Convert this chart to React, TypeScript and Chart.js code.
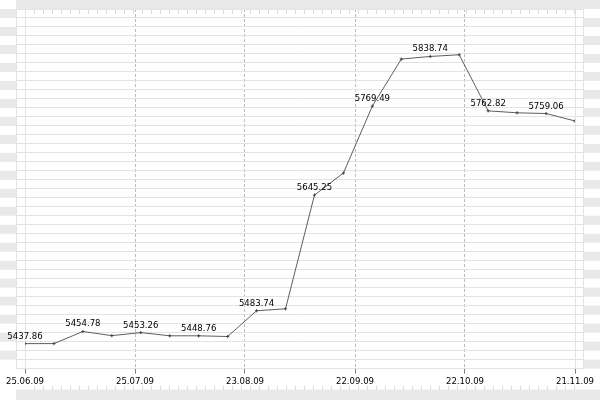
import React, { useEffect, useRef } from "react";
import { Chart, registerables } from "chart.js";

Chart.register(...registerables);

// ---- data ----
const pointIndex = [0, 1, 2, 3, 4, 5, 6, 7, 8, 9, 10, 11, 12, 13, 14, 15, 16, 17, 18, 19];
const values = [
  5437.86, 5437.9, 5454.78, 5449.0, 5453.26, 5448.8, 5448.76, 5447.8, 5483.74, 5486.5,
  5645.25, 5676.0, 5769.49, 5835.1, 5838.74, 5841.1, 5762.82, 5760.1, 5759.06, 5748.7,
];
const labeledIndices = [0, 2, 4, 6, 8, 10, 12, 14, 16, 18];
const dateTickPositions = [0, 3.8, 7.6, 11.4, 15.2, 19];
const dateTickLabels = ["25.06.09", "25.07.09", "23.08.09", "22.09.09", "22.10.09", "21.11.09"];
const yMin = 5403;
const yMax = 5905;
const yGridCount = 41;

// ---- styles ----
const FONT = '"DejaVu Sans Condensed", "DejaVu Sans", sans-serif';
const FONT_SIZE = 9.5;
const BAND = "#e9e9e9";
const GRID = "#e3e3e3";
const DASH = "#bababa";
const LINE = "#5e5e5e";

const decorPlugin = {
  id: "decor",
  beforeDraw(chart: any) {
    const { ctx, chartArea: a, width: W, height: H } = chart;
    const step = (a.bottom - a.top) / (yGridCount - 1);
    ctx.save();
    ctx.fillStyle = "#ffffff";
    ctx.fillRect(0, 0, W, H);
    const leftEdge = a.left - 9;
    const rightEdge = a.right + 8;
    ctx.fillStyle = BAND;
    // top and bottom bands
    ctx.fillRect(leftEdge, 0, W - leftEdge, a.top);
    ctx.fillRect(leftEdge, a.bottom + 21, W - leftEdge, H - (a.bottom + 21));
    // left stripes
    for (let y = a.top; y < a.bottom - 0.5; y += 2 * step) {
      ctx.fillRect(0, y, leftEdge, step);
    }
    // right stripes
    for (let y = a.top + step; y < a.bottom - 0.5; y += 2 * step) {
      ctx.fillRect(rightEdge, y, W - rightEdge, step);
    }
    // frame lines
    ctx.strokeStyle = GRID;
    ctx.lineWidth = 1;
    ctx.beginPath();
    ctx.moveTo(a.left - 8.5, a.top);
    ctx.lineTo(a.left - 8.5, a.bottom + 1);
    ctx.moveTo(a.right + 8.5, a.top);
    ctx.lineTo(a.right + 8.5, a.bottom + 1);
    ctx.stroke();
    // ruler ticks (top and bottom)
    ctx.strokeStyle = "#dcdcdc";
    ctx.beginPath();
    for (let x = a.left + 9; x < a.right; x += 9) {
      const px = Math.round(x) + 0.5;
      ctx.moveTo(px, a.top);
      ctx.lineTo(px, a.top + 5);
      ctx.moveTo(px, a.bottom + 17);
      ctx.lineTo(px, a.bottom + 21);
    }
    ctx.stroke();
    ctx.restore();
  },
};

const labelPlugin = {
  id: "valueLabels",
  afterDatasetsDraw(chart: any) {
    const { ctx } = chart;
    const meta = chart.getDatasetMeta(0);
    ctx.save();
    ctx.font = `${FONT_SIZE}px ${FONT}`;
    ctx.fillStyle = "#000000";
    ctx.textAlign = "center";
    ctx.textBaseline = "middle";
    labeledIndices.forEach((i) => {
      const el = meta.data[i];
      if (!el) return;
      ctx.fillText(values[i].toFixed(2), el.x, el.y - 7.5);
    });
    ctx.restore();
  },
};

export default function App() {
  const ref = useRef<HTMLCanvasElement | null>(null);

  useEffect(() => {
    if (!ref.current) return;
    const yCommon = {
      type: "linear" as const,
      min: yMin,
      max: yMax,
      ticks: { display: false, count: yGridCount, autoSkip: false },
      border: { display: true, color: GRID },
    };
    const chart = new Chart(ref.current, {
      type: "line",
      data: {
        datasets: [
          {
            data: pointIndex.map((x, i) => ({ x, y: values[i] })),
            borderColor: LINE,
            borderWidth: 1,
            pointStyle: "cross",
            pointRadius: 1.6,
            pointBorderWidth: 1,
            pointBorderColor: "#444",
            pointBackgroundColor: "#444",
            tension: 0,
            yAxisID: "y",
          },
        ],
      },
      options: {
        responsive: false,
        animation: false,
        layout: { padding: { left: 17, right: 17, top: 9, bottom: 11 } },
        plugins: { legend: { display: false }, tooltip: { enabled: false } },
        scales: {
          x: {
            type: "linear",
            min: 0,
            max: 19,
            afterBuildTicks: (scale: any) => {
              scale.ticks = dateTickPositions.map((v) => ({ value: v }));
            },
            ticks: {
              callback: (_v: any, i: number) => dateTickLabels[i],
              autoSkip: false,
              maxRotation: 0,
              padding: 2,
              color: "#000",
              font: { family: FONT, size: FONT_SIZE },
            },
            grid: {
              color: (c: any) =>
                c.index === 0 || c.index === dateTickPositions.length - 1 ? "rgba(0,0,0,0)" : DASH,
              tickColor: "#7a7a7a",
              tickLength: 5,
              lineWidth: 1,
            },
            border: { display: false, dash: [3, 2] },
          },
          y: {
            ...yCommon,
            position: "left",
            grid: { color: GRID, tickColor: GRID, tickLength: 8, lineWidth: 1 },
          },
          y2: {
            ...yCommon,
            position: "right",
            grid: { drawOnChartArea: false, color: GRID, tickColor: GRID, tickLength: 8, lineWidth: 1 },
          },
        },
      },
      plugins: [decorPlugin, labelPlugin],
    } as any);
    return () => chart.destroy();
  }, []);

  return (
    <div style={{ position: "fixed", left: 0, top: 0, width: 600, height: 400, background: "#fff" }}>
      <canvas ref={ref} width={600} height={400} style={{ display: "block" }} />
    </div>
  );
}
